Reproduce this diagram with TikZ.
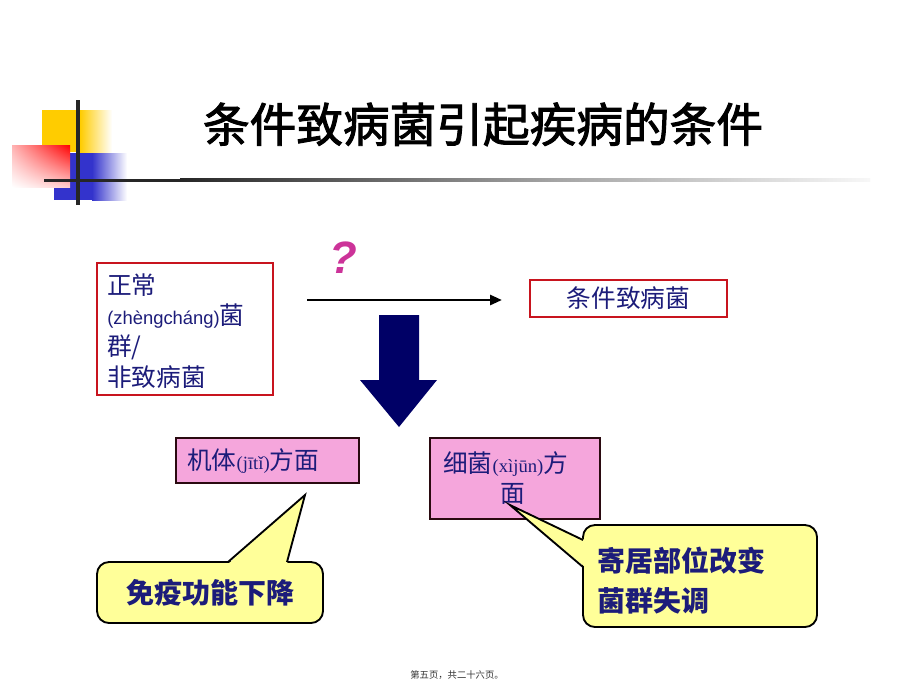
\documentclass[tikz,border=0pt]{standalone}
\usepackage{fontspec}
\setmainfont{Noto Sans CJK SC}
\newfontfamily\cjk{Noto Sans CJK SC}
\newfontfamily\cjktitle[FakeBold=2]{Noto Sans CJK SC}
\newfontfamily\lsans{Liberation Sans}
\newfontfamily\lserif{Liberation Serif}
\usetikzlibrary{arrows.meta,shadings}
\definecolor{navytext}{HTML}{1C1C7A}
\definecolor{boxred}{HTML}{C8141E}
\definecolor{pinkfill}{HTML}{F5A6DC}
\definecolor{pinkborder}{HTML}{2A0A10}
\definecolor{calloutfill}{HTML}{FFFF99}
\definecolor{arrownavy}{HTML}{000066}
\definecolor{qmag}{HTML}{CC3399}
\definecolor{decyellow}{HTML}{FFCC00}
\definecolor{decred}{HTML}{FF0000}
\definecolor{decblue}{HTML}{3333CC}
\begin{document}
\begin{tikzpicture}[x=0.75pt,y=-0.75pt,
  redbox/.style={draw=boxred, line width=2.2pt, fill=white, inner sep=0pt},
  pinkbox/.style={draw=pinkborder, line width=1.9pt, fill=pinkfill, inner sep=0pt},
  callout/.style={draw=black, line width=1.4pt, fill=calloutfill, rounded corners=9pt, inner sep=0pt},
  boxtext/.style={text=navytext, inner sep=0pt, font=\cjk\fontsize{18.5}{20}\selectfont},
  pinktext/.style={text=navytext, inner sep=0pt, font=\cjk\fontsize{18.5}{20}\selectfont},
  callouttext/.style={text=navytext, inner sep=0pt, font=\cjk\bfseries\fontsize{21}{24}\selectfont},
  flowarrow/.style={line width=2pt, -{Triangle[length=9pt,width=7.5pt]}}
]
\useasboundingbox (0,0) rectangle (920,690);
\fill[white] (0,0) rectangle (920,690);

% corner decoration
\fill[decyellow] (42,110) rectangle (80,152);
\shade[left color=decyellow, right color=white] (80,110) rectangle (112,152);
\fill[decblue] (70,153) rectangle (92,200);
\shade[left color=decblue, right color=white] (92,153) rectangle (127,200);
\fill[decblue] (54,188) rectangle (70,200);
\shade[upper left=decred!30!white, upper right=decred, lower left=white, lower right=decred!20!white] (12,145) rectangle (70,187);
\draw[line width=2.3pt, black!85] (78,100) -- (78,205);
\fill[black!85] (44,178.5) rectangle (180,181.5);
\shade[left color=black!85, right color=black!35] (180,178.5) rectangle (560,181.5);
\shade[left color=black!35, right color=black!3] (560,178.5) rectangle (870,181.5);

% title
\node[anchor=base, inner sep=0pt, font=\cjktitle\fontsize{35}{40}\selectfont] (title) at (483,142) {条件致病菌引起疾病的条件};

% left box
\node[redbox, minimum width=132pt, minimum height=99pt] (leftbox) at (185,329) {};
\node[boxtext, anchor=base west] (lt1) at (107,294.5) {正常};
\node[boxtext, anchor=base west] (lt2) at (107,324.5) {{\lsans\fontsize{13.8}{15}\selectfont(zhèngcháng)}菌};
\node[boxtext, anchor=base west] (lt3) at (107,355.5) {群/};
\node[boxtext, anchor=base west] (lt4) at (107,386.5) {非致病菌};

% right box
\node[redbox, minimum width=147.75pt, minimum height=27.75pt] (rightbox) at (628.5,298.5) {};
\node[boxtext, anchor=base] (rt) at (628.5,307.5) {条件致病菌};

% question mark
\node[inner sep=0pt, text=qmag, font=\lsans\bfseries\itshape\fontsize{34}{34}\selectfont] (qm) at (343,258) {?};

% horizontal arrow
\coordinate (hstart) at (307,300);
\coordinate (hend) at (502,300);
\draw[flowarrow] (hstart) -- (hend);

% big down arrow
\fill[arrownavy] (379,315) -- (419,315) -- (419,380) -- (437,380) -- (399,427) -- (360,380) -- (379,380) -- cycle;

% pink boxes
\node[pinkbox, minimum width=137.25pt, minimum height=33.75pt] (body) at (267.5,460.5) {};
\node[pinktext, anchor=base west] (bodyt) at (187,469) {机体{\lserif\fontsize{14}{15}\selectfont(jītǐ)}方面};
\node[pinkbox, minimum width=127.5pt, minimum height=60.75pt] (bact) at (515,478.5) {};
\node[pinktext, anchor=base west] (bactt1) at (443,472) {细菌{\lserif\fontsize{14}{15}\selectfont(xìjūn)}方};
\node[pinktext, anchor=base] (bactt2) at (513,502) {面};

% callout 1
\node[callout, minimum width=169.5pt, minimum height=45.75pt] (c1) at (210,592.5) {};
\coordinate (tip1) at (305,495);
\fill[calloutfill] (228,564) -- (tip1) -- (287,564) -- cycle;
\draw[line width=1.4pt, line join=miter] (228,562) -- (tip1) -- (287,562);
\node[callouttext, anchor=base] (c1t) at (210,603) {免疫功能下降};

% callout 2
\node[callout, minimum width=175.5pt, minimum height=76.5pt] (c2) at (700,576) {};
\coordinate (tip2) at (510,505);
\fill[calloutfill] (585,540) -- (tip2) -- (585,567) -- cycle;
\draw[line width=1.4pt, line join=miter] (583,540) -- (tip2) -- (583,567);
\node[callouttext, anchor=base west] (c2t1) at (597,571) {寄居部位改变};
\node[callouttext, anchor=base west] (c2t2) at (597,611) {菌群失调};

% footer
\node[inner sep=0pt, text=black!80, font=\cjk\fontsize{7}{8}\selectfont] (footer) at (457,675) {第五页，共二十六页。};
\end{tikzpicture}
\end{document}
